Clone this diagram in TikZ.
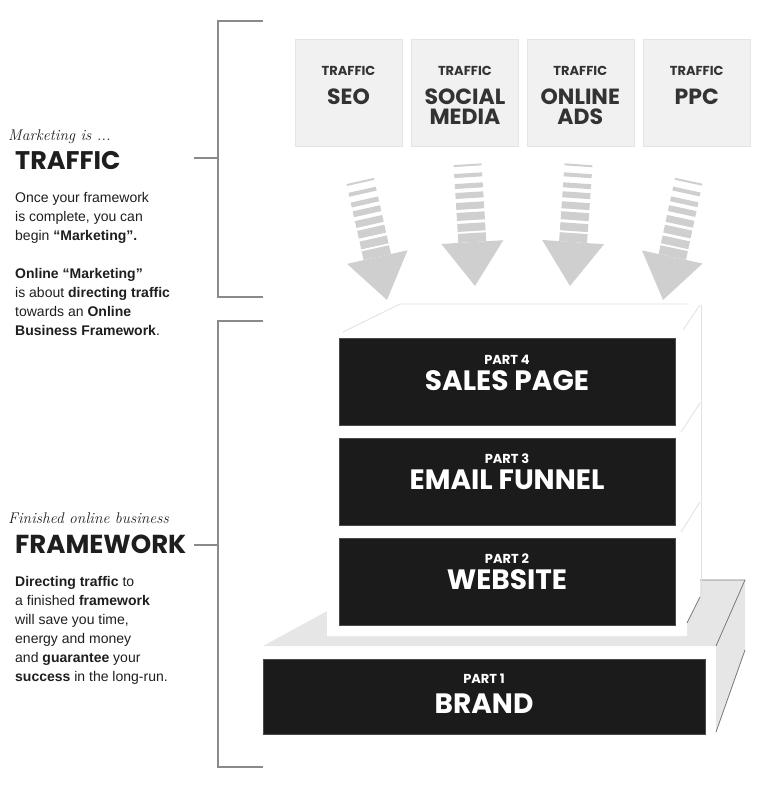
\documentclass[tikz,border=0pt]{standalone}
\usepackage{fontspec}
\setmainfont{Liberation Sans}
\newfontfamily\popfont{Poppins}
\newfontfamily\handfont{Latin Modern Roman}
\usetikzlibrary{positioning}
\definecolor{ink}{RGB}{30,30,30}
\definecolor{tileink}{RGB}{51,51,51}
\definecolor{panelblack}{RGB}{27,27,27}
\definecolor{tilefill}{RGB}{241,241,241}
\definecolor{tileline}{RGB}{228,228,228}
\definecolor{flowgray}{RGB}{207,207,207}
\definecolor{brackgray}{RGB}{138,138,138}
\definecolor{ledgegray}{RGB}{230,230,230}
\definecolor{faintgray}{RGB}{225,225,225}
\definecolor{rimgray}{RGB}{120,120,120}
\tikzset{
  tile/.style={draw=tileline,fill=tilefill,minimum width=107pt,minimum height=107pt,inner sep=0pt},
  tiletag/.style={font=\popfont\bfseries\fontsize{13}{15}\selectfont,text=tileink,inner sep=0pt},
  tilename/.style={font=\popfont\bfseries\fontsize{22}{20}\selectfont,text=tileink,align=center,inner sep=0pt},
  panel/.style={fill=panelblack,draw=panelblack!80!white,inner sep=0pt},
  parttag/.style={font=\popfont\bfseries\fontsize{13}{15}\selectfont,text=white,inner sep=0pt,anchor=base},
  partname/.style={font=\popfont\bfseries\fontsize{28}{30}\selectfont,text=white,inner sep=0pt,anchor=base},
  handtext/.style={font=\handfont\itshape\fontsize{15.5}{17}\selectfont,text=ink,inner sep=0pt,anchor=base west},
  headtext/.style={font=\popfont\bfseries,text=ink,inner sep=0pt,anchor=base west},
  bodytext/.style={font=\fontsize{14}{19}\selectfont,text=ink,align=left,inner sep=0pt,anchor=north west},
  brk/.style={draw=brackgray,line width=2pt},
  faintline/.style={draw=faintgray,line width=0.8pt},
  rimline/.style={draw=rimgray,line width=0.8pt},
  pics/flowarrow/.style={code={
    \fill[flowgray] (-31,-44) -- (0,0) -- (31,-44) -- cycle;
    \foreach \lo/\hi in {44/53,55/63,66/74,77/84,88/94,98/103,109/113,120/122}
      \fill[flowgray] (-14,-\lo) rectangle (14,-\hi);
  }},
}

\begin{document}
\begin{tikzpicture}[x=1pt,y=-1pt]
  \useasboundingbox (0,0) rectangle (772,787);
  \node[tile] (seotile) at (348.5,93) {};
  \node[tile,right=9pt of seotile] (socialtile) {};
  \node[tile,right=8pt of socialtile] (adstile) {};
  \node[tile,right=9pt of adstile] (ppctile) {};
  \node[tiletag,below=27pt of seotile.north] (seotag) {TRAFFIC};
  \node[tiletag,below=27pt of socialtile.north] (socialtag) {TRAFFIC};
  \node[tiletag,below=27pt of adstile.north] (adstag) {TRAFFIC};
  \node[tiletag,below=27pt of ppctile.north] (ppctag) {TRAFFIC};
  \node[tilename,below=13pt of seotag] (seoname) {SEO};
  \node[tilename,below=13pt of socialtag] (socialname) {SOCIAL\\MEDIA};
  \node[tilename,below=13pt of adstag] (adsname) {ONLINE\\ADS};
  \node[tilename,below=13pt of ppctag] (ppcname) {PPC};

  \pic[rotate=12.7] at (387,300) {flowarrow};
  \pic[rotate=3.5] at (475,286) {flowarrow};
  \pic[rotate=-4] at (570,286) {flowarrow};
  \pic[rotate=-12.2] at (663,300) {flowarrow};

  \fill[ledgegray] (263,646) -- (384,580) -- (745,580) -- (716,646) -- cycle;
  \fill[ledgegray] (716,646) -- (745,580) -- (745,650) -- (716,732) -- cycle;
  \draw[rimline] (700,580) -- (745,580) -- (716,646);
  \draw[rimline] (745,650) -- (716,732);
  \node[panel,minimum width=442pt,minimum height=75pt] (brandpanel) at (484,696.5) {};

  \fill[white] (327,636) -- (327,340) -- (400,304) -- (700,304) -- (700,597) -- (687,623) -- (687,636) -- cycle;
  \draw[faintline] (343,332) -- (400,304) -- (687,304);
  \draw[faintline] (701,305) -- (701,597);
  \draw[faintline] (700,305) -- (683,330);
  \draw[faintline] (700,403) -- (681,432);
  \draw[faintline] (700,502) -- (681,532);
  \draw[rimline] (700,597) -- (687,623);
  \node[panel,minimum width=336pt,minimum height=87pt] (salespanel) at (507,381.5) {};
  \node[panel,minimum width=336pt,minimum height=87pt,below=12.5pt of salespanel] (emailpanel) {};
  \node[panel,minimum width=336pt,minimum height=87pt,below=12.5pt of emailpanel] (webpanel) {};

  \node[parttag] (salespart) at ([yshift=17.5pt]salespanel.center) {PART 4};
  \node[partname] (salesname) at ([yshift=-8.5pt]salespanel.center) {SALES PAGE};
  \node[parttag] (emailpart) at ([yshift=17.5pt]emailpanel.center) {PART 3};
  \node[partname] (emailname) at ([yshift=-8.5pt]emailpanel.center) {EMAIL FUNNEL};
  \node[parttag] (webpart) at ([yshift=17.5pt]webpanel.center) {PART 2};
  \node[partname] (webname) at ([yshift=-8.5pt]webpanel.center) {WEBSITE};
  \node[parttag] (brandpart) at ([yshift=13.5pt]brandpanel.center) {PART 1};
  \node[partname] (brandname) at ([yshift=-16.5pt]brandpanel.center) {BRAND};

  \coordinate (mktbrk) at (218,158);
  \coordinate (fwbrk) at (218,545);
  \draw[brk] (263,21) -- (218,21) -- (218,297) -- (263,297);
  \draw[brk] (mktbrk) -- ++(-24,0);
  \draw[brk] (263,321) -- (218,321) -- (218,767) -- (263,767);
  \draw[brk] (fwbrk) -- ++(-24,0);

  \node[handtext] (mkthand) at (8,140) {Marketing is ...};
  \node[headtext,font=\popfont\bfseries\fontsize{25.5}{27}\selectfont] (mkthead) at (15,169) {TRAFFIC};
  \node[bodytext] (mktbody) at (15,192) {Once your framework\\is complete, you can\\begin \textbf{“Marketing”.}\\[19pt]
    \textbf{Online “Marketing”}\\is about \textbf{directing traffic}\\towards an \textbf{Online}\\\textbf{Business Framework}.};
  \node[handtext] (fwhand) at (8,523) {Finished online business};
  \node[headtext,font=\popfont\bfseries\fontsize{26}{28}\selectfont] (fwhead) at (15,553) {FRAMEWORK};
  \node[bodytext] (fwbody) at (15,576) {\textbf{Directing traffic} to\\a finished \textbf{framework}\\will save you time,\\energy and money\\and \textbf{guarantee} your\\\textbf{success} in the long-run.};
\end{tikzpicture}
\end{document}
